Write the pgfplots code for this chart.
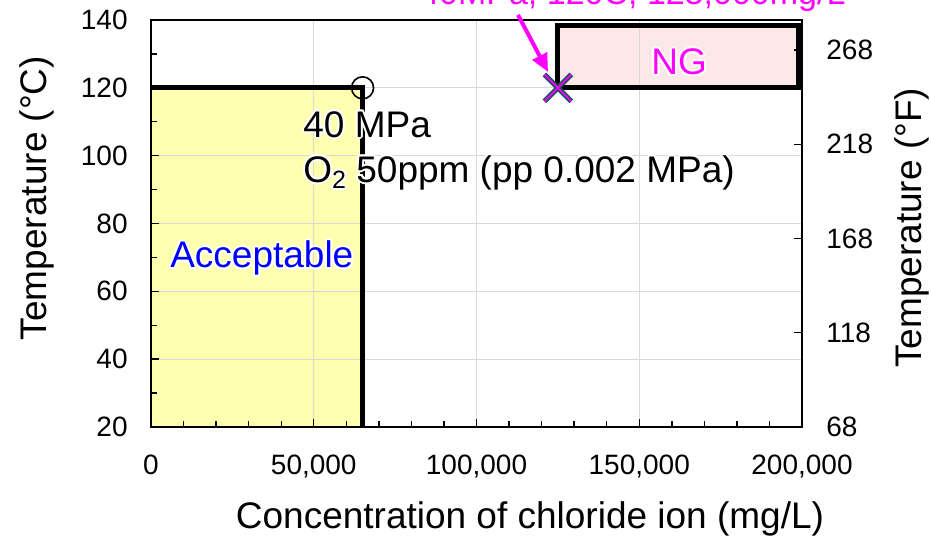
\documentclass[border=0pt]{standalone}
\usepackage{fontspec}
\setmainfont{Liberation Sans}
\usepackage{pgfplots}
\pgfplotsset{compat=1.18}
\usetikzlibrary{arrows.meta}
\definecolor{accyel}{RGB}{255,255,176}
\definecolor{ngpink}{RGB}{253,232,232}
\definecolor{mag}{RGB}{255,0,255}
\definecolor{xdark}{RGB}{31,78,100}
\definecolor{gridgray}{RGB}{217,217,217}
\newcommand{\tickfont}{\fontsize{14}{16}\selectfont}
\newcommand{\labfont}{\fontsize{18.5}{22}\selectfont}
\newcommand{\annfont}{\fontsize{18.5}{22}\selectfont}
\newcommand{\hc}[3]{\rlap{\hspace*{#1}\raisebox{#2}{\textcolor{white}{#3}}}}
\newcommand{\halo}[1]{\leavevmode\hc{-1pt}{0pt}{#1}\hc{1pt}{0pt}{#1}\hc{0pt}{1pt}{#1}\hc{0pt}{-1pt}{#1}\hc{-0.7pt}{0.7pt}{#1}\hc{0.7pt}{0.7pt}{#1}\hc{-0.7pt}{-0.7pt}{#1}\hc{0.7pt}{-0.7pt}{#1}#1}
\newcommand{\subtwo}[1]{\raisebox{-0.35ex}{\fontsize{12.5}{12.5}\selectfont #1}}
\begin{document}
\begin{tikzpicture}[x=1pt,y=1pt]
\begin{axis}[
  set layers,
  at={(75.5pt,56pt)}, anchor=south west,
  scale only axis, width=325.5pt, height=203.5pt,
  xmin=0, xmax=200000, ymin=20, ymax=140,
  xtick={0,50000,100000,150000,200000}, ytick={20,40,60,80,100,120,140},
  minor x tick num=4, minor y tick num=1,
  xtick pos=bottom, ytick pos=left,
  tick align=inside,
  major tick length=4pt, minor tick length=3pt,
  every tick/.style={black, line width=0.7pt},
  grid=major, major grid style={gridgray, line width=0.6pt},
  axis line style={black, line width=0.9pt},
  scaled x ticks=false,
  xticklabel={\pgfmathprintnumber[fixed, precision=0, 1000 sep={,}, assume math mode=true]{\tick}},
  yticklabel={\pgfmathprintnumber[fixed, precision=0, assume math mode=true]{\tick}},
  tick label style={font=\tickfont},
  xticklabel style={anchor=base, inner sep=0pt, yshift=-24pt},
  yticklabel style={anchor=east, inner sep=0pt, xshift=-11.5pt},
  clip=false,
]
% regions
\addplot[on layer=axis background, fill=accyel, draw=none] coordinates {(0,20) (0,120) (65000,120) (65000,20) (0,20)};
\addplot[on layer=axis background, fill=ngpink, draw=none] coordinates {(125000,120) (125000,138.5) (199000,138.5) (199000,120) (125000,120)};
% borders
\addplot[black, line width=2.5pt, line join=miter] coordinates {(0,120) (65000,120) (65000,20)};
\addplot[black, line width=2.5pt, line join=miter] coordinates {(125000,120) (125000,138.5) (199000,138.5) (199000,120) (125000,120)};
% limit point
\addplot[only marks, mark=o, mark size=5.5pt, mark options={draw=black, line width=0.8pt, fill=none}] coordinates {(65000,120)};
% test point
\addplot[only marks, mark=x, mark size=9.5pt, mark options={draw=xdark, line width=2.6pt}] coordinates {(125000,120)};
\addplot[only marks, mark=x, mark size=9.5pt, mark options={draw=mag, line width=0.8pt}] coordinates {(125000,120)};
% arrow
\draw[mag, line width=2pt, -{Triangle[length=9pt, width=8pt]}] (axis cs:112750,141.5) -- (axis cs:121970,124.7);
% annotations
\node[anchor=base west, inner sep=0pt, font=\annfont] at (axis cs:46700,105.5) {\halo{40 MPa}};
\node[anchor=base west, inner sep=0pt, font=\annfont] at (axis cs:46700,92.2) {\halo{O\subtwo{2} 50ppm (pp 0.002 MPa)}};
\node[anchor=base west, inner sep=0pt, font=\annfont, text=blue] at (axis cs:5800,66.9) {\halo{Acceptable}};
\node[anchor=base west, inner sep=0pt, font=\annfont, text=mag] at (axis cs:153600,123.8) {\halo{NG}};
\node[anchor=base west, inner sep=0pt, font=\fontsize{17}{20}\selectfont, text=mag] at (axis cs:82600,144.5) {40MPa, 120C, 125,000mg/L};
% axis labels
\node[rotate=90, font=\labfont] at (axis cs:-35000,87.5) {Temperature (°C)};
\node[font=\labfont] at (axis cs:116440,-7.1) {Concentration of chloride ion (mg/L)};
\node[rotate=90, font=\labfont] at (axis cs:233800,78.7) {Temperature (°F)};
\end{axis}
\begin{axis}[
  at={(75.5pt,56pt)}, anchor=south west,
  scale only axis, width=325.5pt, height=203.5pt,
  xmin=0, xmax=200000, ymin=68, ymax=284,
  axis y line*=right, axis x line=none,
  ytick={68,118,168,218,268},
  tick align=inside, major tick length=4pt,
  every tick/.style={black, line width=0.7pt},
  axis line style={black, line width=0.9pt},
  yticklabel={\pgfmathprintnumber[fixed, precision=0, assume math mode=true]{\tick}},
  tick label style={font=\tickfont},
  yticklabel style={anchor=west, inner sep=0pt, xshift=12pt},
]
\end{axis}
\pgfresetboundingbox
\path[use as bounding box] (0,0) rectangle (465.5pt,269.5pt);
\end{tikzpicture}
\end{document}
